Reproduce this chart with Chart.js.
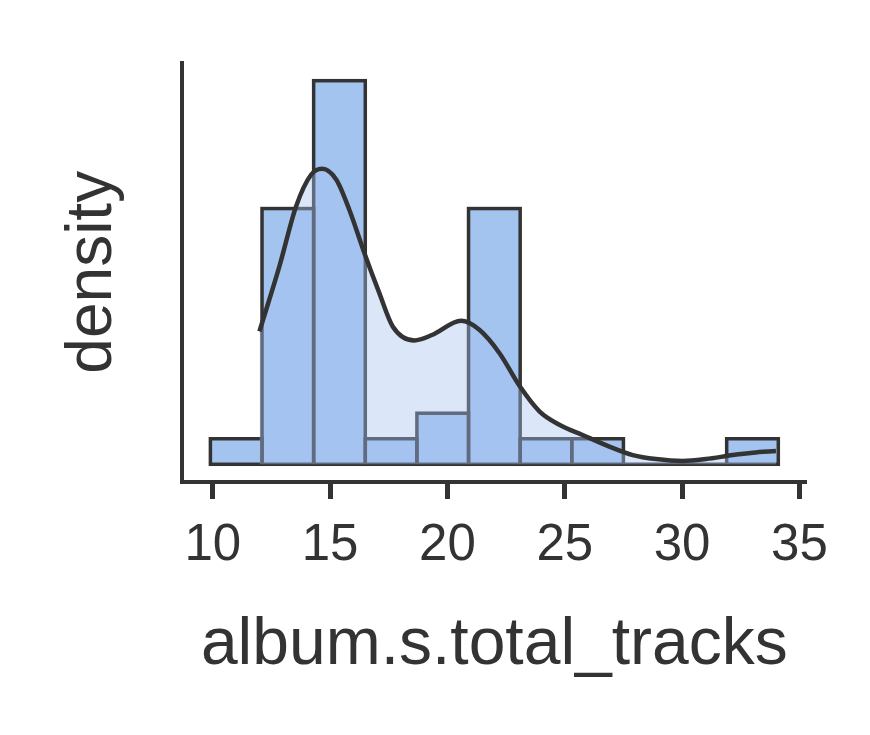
<!DOCTYPE html>
<html>
<head>
<meta charset="utf-8">
<script src="https://cdn.jsdelivr.net/npm/chart.js@4/dist/chart.umd.min.js"></script>
<style>
  html, body { margin: 0; padding: 0; background: #ffffff; }
  #wrap { width: 870px; height: 735px; }
</style>
</head>
<body>
<div id="wrap"><canvas id="c" width="870" height="735"></canvas></div>
<script>
// ---- data ----
const binCenters = [11.0, 13.2, 15.4, 17.6, 19.8, 22.0, 24.2, 26.4, 28.6, 30.8, 33.0];
const binDensity = [0.0108, 0.1082, 0.1623, 0.0108, 0.0216, 0.1082, 0.0108, 0.0108, 0, 0, 0.0108];
const kdeX = [11.99, 12.84, 13.55, 14.19, 14.66, 15.26, 15.82, 16.46, 17.10, 17.67, 18.59, 19.37,
              20.58, 21.36, 22.22, 23.07, 23.92, 24.77, 25.76, 26.90, 27.90, 28.89, 30.03, 31.02,
              32.16, 33.01, 34.00];
const kdeY = [0.0562, 0.0837, 0.1091, 0.1225, 0.1250, 0.1205, 0.1077, 0.0894, 0.0724, 0.0583, 0.0524, 0.0548,
              0.0607, 0.0569, 0.0470, 0.0332, 0.0224, 0.0167, 0.0124, 0.0075, 0.0039, 0.0022, 0.0014, 0.0022,
              0.0039, 0.0049, 0.0056];
const xTicks = [10, 15, 20, 25, 30, 35];
const xTitle = 'album.s.total_tracks';
const yTitle = 'density';

const barData = binCenters.map((x, i) => ({ x: x, y: binDensity[i] }));
const kdeData = kdeX.map((x, i) => ({ x: x, y: kdeY[i] }));

// outlines drawn centred on each bar edge (like matplotlib), using Chart.js bar geometry
const barOutline = {
  id: 'barOutline',
  afterDatasetDraw(chart, args) {
    if (args.index !== 0) return;
    const ctx = chart.ctx;
    ctx.save();
    ctx.lineWidth = 3.5;
    ctx.strokeStyle = '#333333';
    ctx.lineJoin = 'miter';
    args.meta.data.forEach(el => {
      const p = el.getProps(['x', 'y', 'base', 'width'], true);
      const top = Math.min(p.y, p.base);
      const h = Math.abs(p.base - p.y);
      ctx.strokeRect(p.x - p.width / 2, top, p.width, h);
    });
    ctx.restore();
  }
};

new Chart(document.getElementById('c'), {
  data: {
    datasets: [
      {
        type: 'bar',
        data: barData,
        backgroundColor: '#a4c4f0',
        borderWidth: 0,
        barPercentage: 1,
        categoryPercentage: 1,
        grouped: false,
        order: 2
      },
      {
        type: 'line',
        data: kdeData,
        borderColor: '#333333',
        borderWidth: 4.5,
        backgroundColor: 'rgba(164,196,240,0.4)',
        fill: 'origin',
        pointRadius: 0,
        cubicInterpolationMode: 'monotone',
        order: 1
      }
    ]
  },
  plugins: [barOutline],
  options: {
    responsive: false,
    devicePixelRatio: 1,
    animation: false,
    layout: { padding: { left: 0, right: 63.3, top: 62.5, bottom: 0 } },
    plugins: { legend: { display: false }, tooltip: { enabled: false } },
    scales: {
      x: {
        type: 'linear',
        offset: false,
        min: 8.69,
        max: 35.31,
        afterBuildTicks: s => { s.ticks = xTicks.map(v => ({ value: v })); },
        afterFit: s => { s.height = 253; },
        border: { display: true, color: '#333333', width: 4 },
        grid: { display: true, offset: false, drawOnChartArea: false, drawTicks: true, tickLength: 17, tickWidth: 5, tickColor: '#333333' },
        ticks: {
          color: '#333333', padding: 16, maxRotation: 0, autoSkip: false,
          font: { family: '"Liberation Sans", Arial, sans-serif', size: 51 }
        },
        title: {
          display: true, text: xTitle, color: '#333333',
          padding: { top: 0, bottom: 50 },
          font: { family: '"Liberation Sans", Arial, sans-serif', size: 66 }
        }
      },
      y: {
        type: 'linear',
        min: -0.0075,
        max: 0.1700,
        afterFit: s => { s.width = 182; },
        border: { display: true, color: '#333333', width: 4 },
        grid: { display: false },
        ticks: { display: false },
        title: {
          display: true, text: yTitle, color: '#333333',
          padding: { top: 55, bottom: 0 },
          font: { family: '"Liberation Sans", Arial, sans-serif', size: 64 }
        }
      }
    }
  }
});
</script>
</body>
</html>
